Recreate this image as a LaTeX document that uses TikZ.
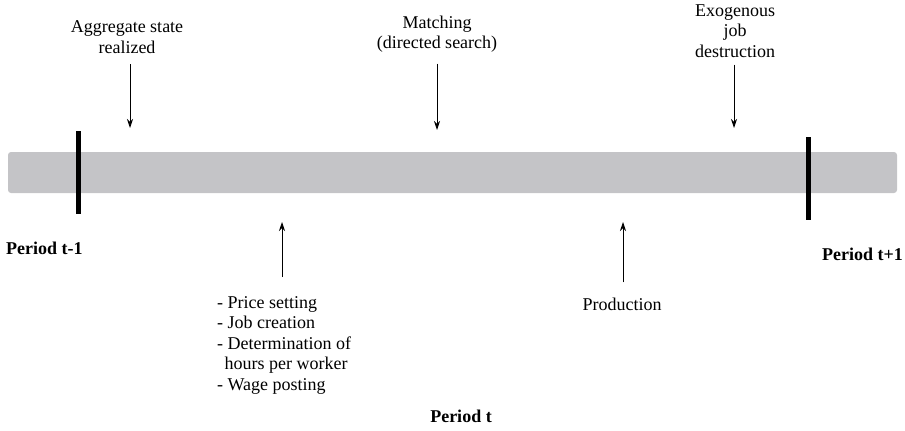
\documentclass[tikz,border=0pt]{standalone}
\usepackage{fontspec}
\setmainfont{Liberation Serif}
\usetikzlibrary{arrows.meta}
\definecolor{bargray}{RGB}{196,196,199}

\begin{document}
\begin{tikzpicture}[x=1pt,y=-1pt,
  lbl/.style={align=center,font=\fontsize{18}{20.5}\selectfont,inner sep=0pt},
  per/.style={font=\fontsize{18}{20.5}\selectfont\bfseries,inner sep=0pt},
  evt/.style={-{Stealth[length=9pt,width=6pt]},line width=0.9pt}]
\useasboundingbox (0,0) rectangle (905,431);
% Time line
\fill[bargray,rounded corners=3pt] (8,152) rectangle (897,193);
\fill[black] (75.5,131) rectangle (80.5,214);
\fill[black] (805.5,137) rectangle (810.5,220);
% Events above the line
\node[lbl] (agg) at (127,37) {Aggregate state\\realized};
\node[lbl] (match) at (437,34) {Matching\\(directed search)};
\node[lbl] (exo) at (735,31) {Exogenous\\job\\destruction};
\coordinate (aggend) at (130,128);
\coordinate (matchend) at (437,130);
\coordinate (exoend) at (734,128);
\draw[evt] (agg.south -| aggend) ++(0,11) -- (aggend);
\draw[evt] (match.south) ++(0,11) -- (matchend);
\draw[evt] (exo.south -| exoend) ++(0,7) -- (exoend);
% Events below the line
\node[lbl,align=left,anchor=north west] (firms) at (217,296) {- Price setting\\- Job creation\\- Determination of\\\ \,hours per worker\\- Wage posting};
\node[lbl] (prod) at (622,304) {Production};
\coordinate (firmsend) at (282,222);
\coordinate (prodend) at (623,222);
\draw[evt] (firmsend |- firms.north) ++(0,-19) -- (firmsend);
\draw[evt] (prod.north -| prodend) ++(0,-15) -- (prodend);
% Periods
\node[per,anchor=west] (pprev) at (6,248) {Period t-1};
\node[per,anchor=east] (pnext) at (903,254) {Period t+1};
\node[per] (pcur) at (461,416) {Period t};
\end{tikzpicture}
\end{document}
